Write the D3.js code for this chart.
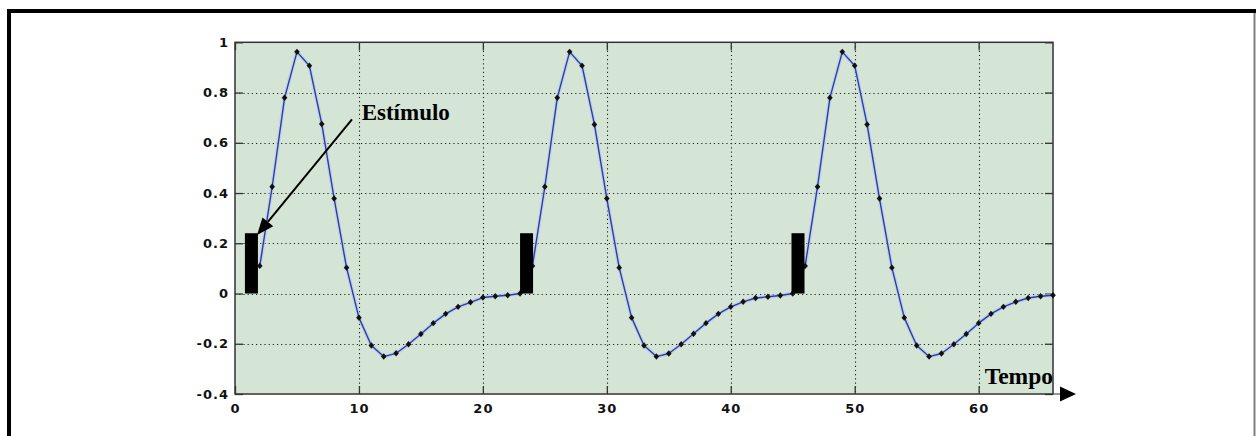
<!DOCTYPE html>
<html>
<head>
<meta charset="utf-8">
<script src="https://cdn.jsdelivr.net/npm/d3@7"></script>
<style>
  html, body { margin: 0; padding: 0; background: #fff; }
  svg { display: block; }
</style>
</head>
<body>
<svg id="chart" width="1256" height="436"></svg>
<script>
// Response sampled at t = 2 .. 66
const response = [
  0.11, 0.425, 0.779, 0.962, 0.907, 0.675, 0.378, 0.103, -0.096, -0.207,
  -0.251, -0.238, -0.202, -0.161, -0.118, -0.081, -0.053, -0.035, -0.016, -0.011, -0.007,
  0, 0.11, 0.425, 0.779, 0.962, 0.907, 0.673, 0.378, 0.103, -0.096, -0.207,
  -0.251, -0.239, -0.202, -0.160, -0.118, -0.081, -0.053, -0.033, -0.018, -0.013, -0.008,
  0, 0.11, 0.425, 0.779, 0.962, 0.907, 0.673, 0.378, 0.103, -0.096, -0.207,
  -0.251, -0.239, -0.202, -0.161, -0.118, -0.081, -0.053, -0.033, -0.018, -0.011, -0.007
];
const firstSample = 2;

// Stimulus pulses: onset time, duration, amplitude
const stimulusOnsets = [0.8, 23.0, 44.9];
const stimulusDuration = 1.05;
const stimulusAmplitude = 0.24;

const xTicks = [0, 10, 20, 30, 40, 50, 60];
const yTicks = [-0.4, -0.2, 0, 0.2, 0.4, 0.6, 0.8, 1];
const yTickLabels = ["-0.4", "-0.2", "0", "0.2", "0.4", "0.6", "0.8", "1"];

const xDomain = [0, 66];
const yDomain = [-0.4, 1];

const svg = d3.select("#chart");
const W = 1256, H = 436;

// page frame
svg.append("line").attr("x1", 7).attr("x2", 1256).attr("y1", 11).attr("y2", 11)
  .attr("stroke", "#000").attr("stroke-width", 4);
svg.append("line").attr("x1", 9).attr("x2", 9).attr("y1", 9).attr("y2", H)
  .attr("stroke", "#000").attr("stroke-width", 4);
svg.append("line").attr("x1", 1254.5).attr("x2", 1254.5).attr("y1", 13).attr("y2", H)
  .attr("stroke", "#808080").attr("stroke-width", 2);

const plot = { left: 235, top: 42.3, right: 1053, bottom: 394 };
const x = d3.scaleLinear().domain(xDomain).range([plot.left, plot.right]);
const y = d3.scaleLinear().domain(yDomain).range([plot.bottom, plot.top]);

// axes background
svg.append("rect")
  .attr("x", plot.left).attr("y", plot.top)
  .attr("width", plot.right - plot.left).attr("height", plot.bottom - plot.top)
  .attr("fill", "#d5e5d5");

// dotted grid
const grid = svg.append("g").attr("stroke", "#222").attr("stroke-width", 1.1)
  .attr("stroke-dasharray", "1.2,3");
grid.selectAll("line.gx").data(xTicks.filter(d => d > xDomain[0] && d < xDomain[1]))
  .join("line").attr("class", "gx")
  .attr("x1", d => Math.round(x(d)) + 0.5).attr("x2", d => Math.round(x(d)) + 0.5)
  .attr("y1", plot.top).attr("y2", plot.bottom);
grid.selectAll("line.gy").data(yTicks.filter(d => d > yDomain[0] && d < yDomain[1]))
  .join("line").attr("class", "gy")
  .attr("x1", plot.left).attr("x2", plot.right)
  .attr("y1", d => Math.round(y(d)) + 0.5).attr("y2", d => Math.round(y(d)) + 0.5);

// axes with inward ticks on all four sides
const axisColor = "#333";
const tickFont = "'DejaVu Sans', Verdana, sans-serif";
function styleAxis(g, showText) {
  g.select(".domain").remove();
  g.selectAll(".tick line").attr("stroke", axisColor).attr("stroke-width", 1.3);
  g.selectAll(".tick text")
    .attr("fill", "#111")
    .style("font-family", tickFont)
    .style("font-weight", "bold")
    .style("font-size", "13px")
    .style("letter-spacing", "1px")
    .style("display", showText ? null : "none");
}
svg.append("g").attr("transform", `translate(0,${plot.bottom})`)
  .call(d3.axisBottom(x).tickValues(xTicks).tickSize(-8).tickPadding(10).tickFormat(d3.format("d")))
  .call(g => styleAxis(g, true));
svg.append("g").attr("transform", `translate(0,${plot.top})`)
  .call(d3.axisTop(x).tickValues(xTicks).tickSize(-8))
  .call(g => styleAxis(g, false));
svg.append("g").attr("transform", `translate(${plot.left},0)`)
  .call(d3.axisLeft(y).tickValues(yTicks).tickSize(-8).tickPadding(6)
    .tickFormat((d, i) => yTickLabels[i]))
  .call(g => styleAxis(g, true));
svg.append("g").attr("transform", `translate(${plot.right},0)`)
  .call(d3.axisRight(y).tickValues(yTicks).tickSize(-8))
  .call(g => styleAxis(g, false));

// axes box
svg.append("rect")
  .attr("x", plot.left).attr("y", plot.top)
  .attr("width", plot.right - plot.left).attr("height", plot.bottom - plot.top)
  .attr("fill", "none").attr("stroke", axisColor).attr("stroke-width", 1.5);

// response curve
const points = response.map((v, i) => ({ t: firstSample + i, v }));
const lineGen = d3.line().x(d => x(d.t)).y(d => y(d.v));
svg.append("path").datum(points).attr("d", lineGen)
  .attr("fill", "none").attr("stroke", "#b4c4ee").attr("stroke-width", 4)
  .attr("stroke-opacity", 0.55).attr("stroke-linejoin", "round");
svg.append("path").datum(points).attr("d", lineGen)
  .attr("fill", "none").attr("stroke", "#2c3ca6").attr("stroke-width", 1.4)
  .attr("stroke-linejoin", "round");
svg.append("g").selectAll("path").data(points).join("path")
  .attr("transform", d => `translate(${x(d.t)},${y(d.v)})`)
  .attr("d", "M0,-3.2L2.8,0L0,3.2L-2.8,0Z")
  .attr("fill", "#111");

// stimulus pulses
svg.append("g").selectAll("rect").data(stimulusOnsets).join("rect")
  .attr("x", d => x(d))
  .attr("width", x(stimulusDuration) - x(0))
  .attr("y", y(stimulusAmplitude))
  .attr("height", y(0) - y(stimulusAmplitude))
  .attr("fill", "#000");

// "Estímulo" annotation with arrow
const serif = "'Liberation Serif', 'Times New Roman', serif";
const arrowFrom = { t: 9.44, v: 0.693 }, arrowTo = { t: 1.78, v: 0.233 };
const ax0 = x(arrowFrom.t), ay0 = y(arrowFrom.v), ax1 = x(arrowTo.t), ay1 = y(arrowTo.v);
const ang = Math.atan2(ay1 - ay0, ax1 - ax0);
const headLen = 17, headHalf = 7;
const bx = ax1 - headLen * Math.cos(ang), by = ay1 - headLen * Math.sin(ang);
svg.append("line").attr("x1", ax0).attr("y1", ay0).attr("x2", bx).attr("y2", by)
  .attr("stroke", "#000").attr("stroke-width", 2);
svg.append("path")
  .attr("d", `M${ax1},${ay1}L${bx - headHalf * Math.sin(ang)},${by + headHalf * Math.cos(ang)}L${bx + headHalf * Math.sin(ang)},${by - headHalf * Math.cos(ang)}Z`)
  .attr("fill", "#000");
svg.append("text")
  .attr("x", x(10.22)).attr("y", y(0.689))
  .style("font-family", serif).style("font-weight", "bold").style("font-size", "23px")
  .attr("fill", "#000")
  .text("Estímulo");

// time axis label with arrow
svg.append("text")
  .attr("x", plot.right).attr("y", 384).attr("text-anchor", "end")
  .style("font-family", serif).style("font-weight", "bold").style("font-size", "23.5px")
  .attr("fill", "#000")
  .text("Tempo");
svg.append("line").attr("x1", plot.right).attr("x2", 1062)
  .attr("y1", plot.bottom).attr("y2", plot.bottom)
  .attr("stroke", "#555").attr("stroke-width", 1.2);
svg.append("path")
  .attr("d", `M1060,${plot.bottom - 7.5}L1076,${plot.bottom}L1060,${plot.bottom + 7.5}Z`)
  .attr("fill", "#000");
</script>
</body>
</html>
